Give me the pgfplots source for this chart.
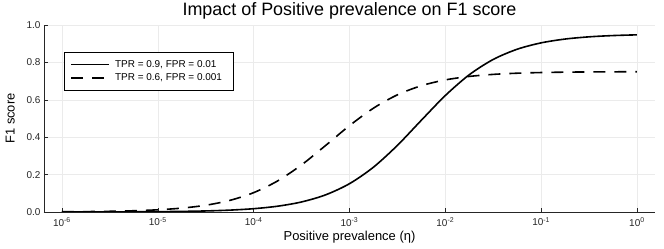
\documentclass[border=0pt]{standalone}
\usepackage{pgfplots}
\pgfplotsset{compat=1.18}
\usepackage{fontspec}
\setmainfont{Liberation Sans}
\begin{document}
\begin{tikzpicture}
\begin{axis}[
  name=ax,
  scale only axis,
  width=611bp, height=187bp,
  xmode=log, log basis x=10,
  xmin=6.49e-7, xmax=1.542,
  ymin=0, ymax=1,
  axis lines=left,
  axis line style={-, draw=black!85, line width=0.7bp},
  tick align=inside,
  major tick length=4bp,
  tick style={black!85, line width=0.5bp},
  xtick={1e-6,1e-5,1e-4,1e-3,1e-2,1e-1,1},
  xticklabels={10\textsuperscript{-6},10\textsuperscript{-5},10\textsuperscript{-4},10\textsuperscript{-3},10\textsuperscript{-2},10\textsuperscript{-1},10\textsuperscript{0}},
  minor xtick={},
  ytick={0,0.2,0.4,0.6,0.8,1.0},
  yticklabel style={/pgf/number format/fixed,/pgf/number format/precision=1,/pgf/number format/fixed zerofill},
  /pgf/number format/assume math mode=true,
  ticklabel style={font=\fontsize{10}{12}\selectfont, text=black!85},
  xticklabel style={yshift=-2bp},
  grid=major,
  major grid style={black!8, line width=0.5bp},
  title={Impact of Positive prevalence on F1 score},
  title style={font=\fontsize{18}{21}\selectfont, yshift=-4bp},
  xlabel={Positive prevalence (η)},
  ylabel={F1 score},
  label style={font=\fontsize{13}{15}\selectfont},
  xlabel style={yshift=2bp},
  ylabel style={yshift=5bp},
  legend style={at={(0.033,0.856)}, anchor=north west, draw=black, line width=0.7bp, fill=white,
    font=\fontsize{10}{11.5}\selectfont, row sep=1bp, inner xsep=6bp, inner ysep=6bp,
    nodes={inner xsep=5bp}},
  legend cell align=left,
  legend image code/.code={\draw[#1] (0bp,0bp) -- (38bp,0bp);},
]
\addplot[black, line width=1.6bp, smooth] coordinates {
(1e-6,0.00018) (1.7783e-6,0.00032) (3.1623e-6,0.000569) (5.6234e-6,0.001011)
(1e-5,0.001797) (1.7783e-5,0.003190) (3.1623e-5,0.005658) (5.6234e-5,0.010016)
(1e-4,0.017666) (1.7783e-4,0.030968) (3.1623e-4,0.053711) (5.6234e-4,0.091497)
(1e-3,0.151388) (1.7783e-3,0.239571) (3.1623e-3,0.356275) (5.6234e-3,0.490692)
(1e-2,0.622837) (1.7783e-2,0.733983) (3.1623e-2,0.815868) (5.6234e-2,0.870479)
(0.1,0.904523) (0.17783,0.924863) (0.31623,0.936708) (0.56234,0.943503) (1,0.947368)
};
\addlegendentry{TPR = 0.9, FPR = 0.01}
\addplot[black, line width=1.6bp, smooth, dash pattern=on 12bp off 9bp] coordinates {
(1e-6,0.001198) (1.7783e-6,0.002128) (3.1623e-6,0.003776) (5.6234e-6,0.006688)
(1e-5,0.011811) (1.7783e-5,0.020750) (3.1623e-5,0.036121) (5.6234e-5,0.061914)
(1e-4,0.103457) (1.7783e-4,0.166151) (3.1623e-4,0.252034) (5.6234e-4,0.355315)
(1e-3,0.461716) (1.7783e-3,0.555213) (3.1623e-3,0.626558) (5.6234e-3,0.675361)
(1e-2,0.706298) (1.7783e-2,0.724973) (3.1623e-2,0.735915) (5.6234e-2,0.742215)
(0.1,0.745805) (0.17783,0.747840) (0.31623,0.748988) (0.56234,0.749635) (1,0.75)
};
\addlegendentry{TPR = 0.6, FPR = 0.001}
\coordinate (O) at (rel axis cs:0,0);
\end{axis}
\pgfresetboundingbox
\path ([shift={(-44bp,-37bp)}]O) rectangle ++(664bp,249bp);
\end{tikzpicture}
\end{document}
